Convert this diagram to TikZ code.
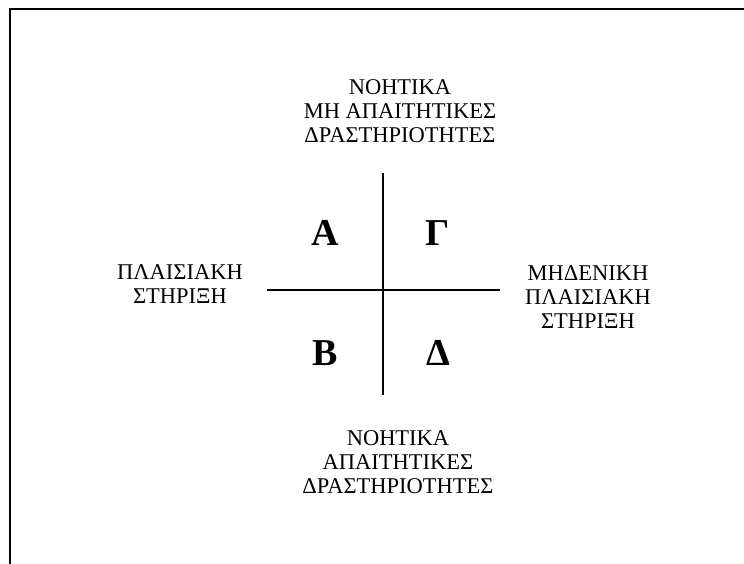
\documentclass[tikz,border=0pt]{standalone}
\usepackage{fontspec}
\setmainfont{Liberation Serif}
\tikzset{
  label text/.style={align=center, inner sep=0pt,
    font=\fontsize{22.5}{24}\selectfont},
  quadrant/.style={inner sep=0pt, font=\fontsize{38}{40}\selectfont\bfseries}
}
\begin{document}
\begin{tikzpicture}[x=1pt,y=-1pt]
        \useasboundingbox (0,0) rectangle (744,564);

        % frame
        \draw[line width=2pt] (744,9.5) -- (9.5,9.5) -- (9.5,564);

        % cross
        \coordinate (up) at (383,173);
        \coordinate (down) at (383,395);
        \coordinate (left) at (267,290);
        \coordinate (right) at (500,290);
        \draw[line width=1.3pt] (up) -- (down);
        \draw[line width=1.3pt] (left) -- (right);

        \node[quadrant] (qa) at (325,233) {Α};
        \node[quadrant] (qg) at (438,233) {Γ};
        \node[quadrant] (qb) at (325,353) {Β};
        \node[quadrant] (qd) at (438,353) {Δ};

        \node[label text] (top) at (400,111) {ΝΟΗΤΙΚΑ\\ΜΗ ΑΠΑΙΤΗΤΙΚΕΣ\\ΔΡΑΣΤΗΡΙΟΤΗΤΕΣ};
        \node[label text] (west) at (180,284.5) {ΠΛΑΙΣΙΑΚΗ\\ΣΤΗΡΙΞΗ};
        \node[label text] (east) at (588,297) {ΜΗΔΕΝΙΚΗ\\ΠΛΑΙΣΙΑΚΗ\\ΣΤΗΡΙΞΗ};
        \node[label text] (bottom) at (398,462) {ΝΟΗΤΙΚΑ\\ΑΠΑΙΤΗΤΙΚΕΣ\\ΔΡΑΣΤΗΡΙΟΤΗΤΕΣ};
\end{tikzpicture}
\end{document}
